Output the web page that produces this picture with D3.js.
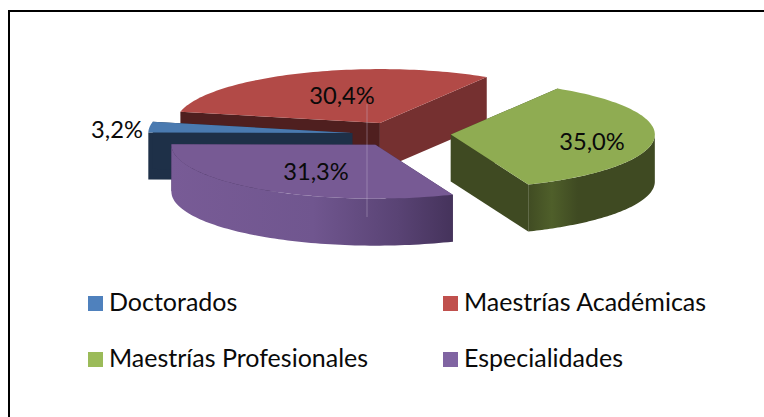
<!DOCTYPE html>
<html><head><meta charset="utf-8">
<script src="https://cdn.jsdelivr.net/npm/d3@7"></script>
<style>html,body{margin:0;padding:0;background:#fff}svg{display:block}text{font-family:Lato,"Open Sans",sans-serif;fill:#0a0a0a}</style>
</head><body><svg id="c" width="764" height="417"></svg>
<script>
const categories=["Doctorados","Maestrías Académicas","Maestrías Profesionales","Especialidades"];
const values=[3.2,30.4,35.0,31.3];
const labels=["3,2%","30,4%","35,0%","31,3%"];
const topColors=["#4a7ab0","#b24a47","#8fac52","#775a94"];
const startCutColors=["#1e3048","#4f1f1f","#3f4a22","#44325a"];
const endCutColors=["#1e3048","#753030","#3f4a22","#44325a"];
const legendColors=["#4f81bd","#c0504d","#9bbb59","#8064a2"];

const cx=399,cy=134.5,rx=204,ry=54,depth=47,explode=.25;
const svg=d3.select("#c");
const defs=svg.append("defs");
const sx=d3.scaleLinear().domain([-1,1]).range([-rx,rx]);
const sy=d3.scaleLinear().domain([-1,1]).range([ry,-ry]);
const pie=d3.pie().sort(null).value(d=>d).startAngle(-89.5*Math.PI/180).endAngle(270.5*Math.PI/180);
const arcs=pie(values);
const nudges=[[4,0],[1,1],[1,-1],[5,-1]];
const line=d3.line();
const pt=(a,r=1)=>[sx(Math.sin(a)*r),sy(Math.cos(a)*r)];
function gradient(id,stops,x1,x2){
  const g=defs.append("linearGradient").attr("id",id).attr("gradientUnits","userSpaceOnUse").attr("x1",x1).attr("x2",x2).attr("y1",0).attr("y2",0);
  stops.forEach(s=>g.append("stop").attr("offset",s[0]).attr("stop-color",s[1]));
}
gradient("gPurple",[[0,"#785b96"],[.5,"#70568f"],[.8,"#594374"],[1,"#44325a"]],-205,80);
gradient("gGreen",[[0,"#3f4a22"],[.2,"#4f5f2a"],[.4,"#3f4a22"],[1,"#3f4a22"]],75,205);
const wallFill=["#1e3048","#4f1f1f","url(#gGreen)","url(#gPurple)"];

function frontPts(d){
  const lo=Math.max(d.startAngle,Math.PI/2),hi=Math.min(d.endAngle,Math.PI*1.5);
  if(hi<=lo) return [];
  return d3.range(81).map(i=>pt(lo+(hi-lo)*i/80));
}
function arcPts(d){return d3.range(81).map(i=>pt(d.startAngle+(d.endAngle-d.startAngle)*i/80));}
function drawSlice(i){
  const d=arcs[i],mid=(d.startAngle+d.endAngle)/2;
  const [ox,oy]=pt(mid,explode);
  const g=svg.append("g").attr("transform",`translate(${cx+ox+nudges[i][0]},${cy+oy+nudges[i][1]})`);
  const down=p=>[p[0],p[1]+depth];
  const a=pt(d.startAngle),b=pt(d.endAngle);
  g.append("path").attr("d",line([[0,0],a,down(a),[0,depth]])+"Z").attr("fill",startCutColors[i]);
  g.append("path").attr("d",line([[0,0],b,down(b),[0,depth]])+"Z").attr("fill",endCutColors[i]);
  const front=frontPts(d);
  if(front.length) g.append("path").attr("d",line(front.concat(front.map(down).reverse()))+"Z").attr("fill",wallFill[i]);
  g.append("path").attr("d",line([[0,0]].concat(arcPts(d)))+"Z").attr("fill",topColors[i]);
}
// frame: only the top and left edges are inside the picture
svg.append("path").attr("d",line([[9,417],[9,11],[764,11]])).attr("fill","none").attr("stroke","#000").attr("stroke-width",2);
[1,2,0,3].forEach(drawSlice);

svg.append("line").attr("x1",367).attr("x2",367).attr("y1",104).attr("y2",217).attr("stroke","#c8b8d8").attr("stroke-opacity",.4);

const labelPos=[[117,130],[342,96],[592,142],[316,172]];
svg.selectAll("text.v").data(labels).join("text").attr("class","v")
  .attr("x",(d,i)=>labelPos[i][0]).attr("y",(d,i)=>labelPos[i][1]).attr("dy","0.35em")
  .attr("text-anchor","middle").attr("font-size",23.7).text(d=>d);

const lx=[88,443],ly=[296,352];
categories.forEach((c,i)=>{
  const x=lx[i%2],y=ly[i>>1];
  svg.append("rect").attr("x",x).attr("y",y).attr("width",15).attr("height",15).attr("fill",legendColors[i]);
  svg.append("text").attr("x",x+21).attr("y",y+15).attr("font-size",25).text(c);
});
</script></body></html>
